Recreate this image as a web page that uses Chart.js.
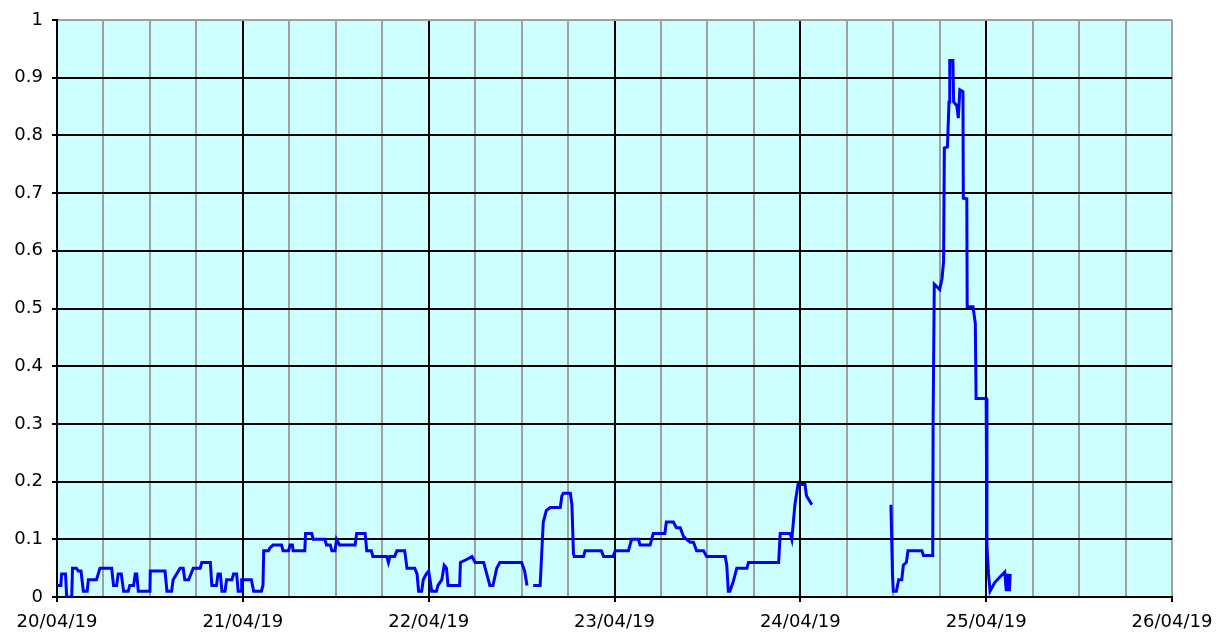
<!DOCTYPE html>
<html>
<head>
<meta charset="utf-8">
<script src="https://cdn.jsdelivr.net/npm/chart.js@4/dist/chart.umd.min.js"></script>
<style>
  html, body { margin: 0; padding: 0; background: #fff; }
  #wrap { width: 1216px; height: 632px; }
</style>
</head>
<body>
<div id="wrap"><canvas id="chart" width="1216" height="632"></canvas></div>
<script>
// hours since 20/04/19 00:00, null value = no reading
let hours = [
  0.0, 0.5, 0.6, 1.1, 1.25, 1.9, 2.0, 2.5, 2.75, 3.1, 3.4, 3.9, 4.05, 5.1, 5.55, 7.06, 7.3, 7.7, 7.9, 8.3,
  8.6, 9.2, 9.4, 9.9, 10.1, 10.3, 10.5, 12.0, 12.05, 13.95, 14.2, 14.8, 15.0, 15.9, 16.3, 16.5, 17.0, 17.6, 18.5, 18.7,
  19.8, 20.0, 20.6, 20.8, 21.1, 21.3, 21.7, 21.9, 22.6, 22.8, 23.2, 23.4, 23.8, 23.85, 25.1, 25.4, 26.4, 26.6, 26.7, 27.3,
  27.5, 27.9, 29.0, 29.2, 29.9, 30.1, 30.4, 30.5, 32.0, 32.1, 32.9, 33.1, 34.6, 34.8, 35.3, 35.5, 35.9, 36.1, 36.5, 38.5,
  38.7, 39.8, 40.0, 40.6, 40.8, 42.6, 42.8, 43.0, 43.6, 43.9, 44.9, 45.2, 46.2, 46.5, 46.7, 47.1, 47.3, 47.7, 48.0, 48.4,
  48.6, 49.0, 49.2, 49.7, 50.0, 50.3, 50.5, 52.0, 52.1, 52.9, 53.6, 54.0, 55.1, 55.5, 55.9, 56.3, 56.8, 57.2, 60.0, 60.4,
  60.7, 61.1, 61.5, 62.4, 62.6, 62.8, 63.2, 63.7, 65.0, 65.2, 65.4, 66.3, 66.5, 66.7, 66.8, 68.0, 68.2, 70.3, 70.6, 71.8,
  72.1, 73.8, 74.2, 75.1, 75.3, 76.6, 77.0, 78.5, 78.7, 79.6, 80.0, 80.5, 80.9, 81.3, 81.8, 82.2, 82.6, 83.5, 83.9, 86.3,
  86.5, 86.7, 86.9, 87.3, 87.8, 89.1, 89.3, 93.2, 93.4, 94.7, 94.9, 95.3, 95.7, 96.6, 96.8, 97.5, 102.0, 107.7, 107.9, 108.0,
  108.4, 108.7, 109.1, 109.3, 109.7, 109.9, 111.7, 111.9, 113.1, 113.15, 113.3, 114.0, 114.3, 114.5, 114.6, 115.0, 115.2, 115.3, 115.7, 115.8,
  116.2, 116.4, 116.6, 117.0, 117.05, 117.5, 117.55, 118.3, 118.6, 118.7, 120.0, 120.1, 120.3, 120.5, 121.1, 121.8, 122.4, 122.6, 122.8, 123.0,
  123.1
];
let values = [
  0.02, 0.02, 0.04, 0.04, 0.0, 0.0, 0.05, 0.05, 0.045, 0.045, 0.01, 0.01, 0.03, 0.03, 0.05, 0.05, 0.02, 0.02, 0.04, 0.04,
  0.01, 0.01, 0.02, 0.02, 0.04, 0.04, 0.01, 0.01, 0.045, 0.045, 0.01, 0.01, 0.03, 0.05, 0.05, 0.03, 0.03, 0.05, 0.05, 0.06,
  0.06, 0.02, 0.02, 0.04, 0.04, 0.01, 0.01, 0.03, 0.03, 0.04, 0.04, 0.01, 0.01, 0.03, 0.03, 0.01, 0.01, 0.02, 0.08, 0.08,
  0.085, 0.09, 0.09, 0.08, 0.08, 0.09, 0.09, 0.08, 0.08, 0.11, 0.11, 0.10, 0.10, 0.09, 0.09, 0.08, 0.08, 0.10, 0.09, 0.09,
  0.11, 0.11, 0.08, 0.08, 0.07, 0.07, 0.06, 0.07, 0.07, 0.08, 0.08, 0.05, 0.05, 0.04, 0.01, 0.01, 0.03, 0.04, 0.045, 0.01,
  0.01, 0.01, 0.02, 0.03, 0.055, 0.05, 0.02, 0.02, 0.06, 0.065, 0.07, 0.06, 0.06, 0.04, 0.02, 0.02, 0.05, 0.06, 0.06, 0.045,
  0.02, null, 0.02, 0.02, 0.075, 0.13, 0.15, 0.155, 0.155, 0.175, 0.18, 0.18, 0.16, 0.075, 0.07, 0.07, 0.08, 0.08, 0.07, 0.07,
  0.08, 0.08, 0.10, 0.10, 0.09, 0.09, 0.11, 0.11, 0.13, 0.13, 0.12, 0.12, 0.105, 0.10, 0.095, 0.095, 0.08, 0.08, 0.07, 0.07,
  0.055, 0.01, 0.01, 0.025, 0.05, 0.05, 0.06, 0.06, 0.11, 0.11, 0.10, 0.16, 0.195, 0.195, 0.175, 0.16, null, 0.16, 0.04, 0.01,
  0.01, 0.03, 0.03, 0.055, 0.06, 0.08, 0.08, 0.072, 0.072, 0.307, 0.542, 0.533, 0.552, 0.581, 0.778, 0.78, 0.858, 0.93, 0.93, 0.858,
  0.852, 0.83, 0.879, 0.876, 0.691, 0.69, 0.503, 0.503, 0.474, 0.344, 0.344, 0.09, 0.04, 0.01, 0.025, 0.035, 0.043, 0.01, 0.04, 0.01,
  0.04
];
let dayLabels = ["20/04/19", "21/04/19", "22/04/19", "23/04/19", "24/04/19", "25/04/19", "26/04/19"];

let points = [];
for (let i = 0; i < hours.length; i++) {
  points.push({ x: hours[i], y: values[i] });
}

Chart.defaults.font.family = "'DejaVu Sans', Verdana, sans-serif";
Chart.defaults.font.size = 18;
Chart.defaults.color = "#000";

const plotBg = {
  id: "plotBg",
  beforeDraw(chart) {
    const a = chart.chartArea, ctx = chart.ctx;
    ctx.save();
    ctx.fillStyle = "#ccffff";
    ctx.fillRect(a.left, a.top, a.right - a.left, a.bottom - a.top);
    ctx.restore();
  }
};

new Chart(document.getElementById("chart"), {
  type: "line",
  data: {
    datasets: [{
      data: points,
      borderColor: "#0000ff",
      borderWidth: 3,
      pointRadius: 0,
      tension: 0,
      spanGaps: false,
      borderJoinStyle: "miter"
    }]
  },
  options: {
    responsive: false,
    animation: false,
    events: [],
    layout: { padding: { top: 20, right: 44, left: 0, bottom: 0 } },
    plugins: { legend: { display: false }, tooltip: { enabled: false } },
    scales: {
      x: {
        type: "linear",
        min: 0,
        max: 144,
        afterFit: (s) => { s.height = 35; s.paddingLeft = 0; s.paddingRight = 0; },
        ticks: {
          stepSize: 6,
          autoSkip: false,
          maxRotation: 0,
          padding: 10,
          callback: (v) => (v % 24 === 0 ? dayLabels[v / 24] : "")
        },
        grid: {
          lineWidth: 2,
          tickLength: 5,
          color: (c) => (c.tick && c.tick.value % 24 === 0 && c.tick.value !== 144 ? "#000" : "#a0a0a0"),
          tickColor: (c) => (c.tick && c.tick.value % 24 === 0 ? "#000" : "rgba(0,0,0,0)")
        },
        border: { color: "#000", width: 2 }
      },
      y: {
        min: 0,
        max: 1,
        afterFit: (s) => { s.width = 57; s.paddingTop = 0; s.paddingBottom = 0; },
        ticks: {
          stepSize: 0.1,
          padding: 9,
          callback: (v) => String(+v.toFixed(1))
        },
        grid: {
          lineWidth: 2,
          tickLength: 5,
          color: (c) => (c.tick && c.tick.value >= 0.999 ? "#a0a0a0" : "#000"),
          tickColor: "#000"
        },
        border: { color: "#000", width: 2 }
      }
    }
  },
  plugins: [plotBg]
});
</script>
</body>
</html>
